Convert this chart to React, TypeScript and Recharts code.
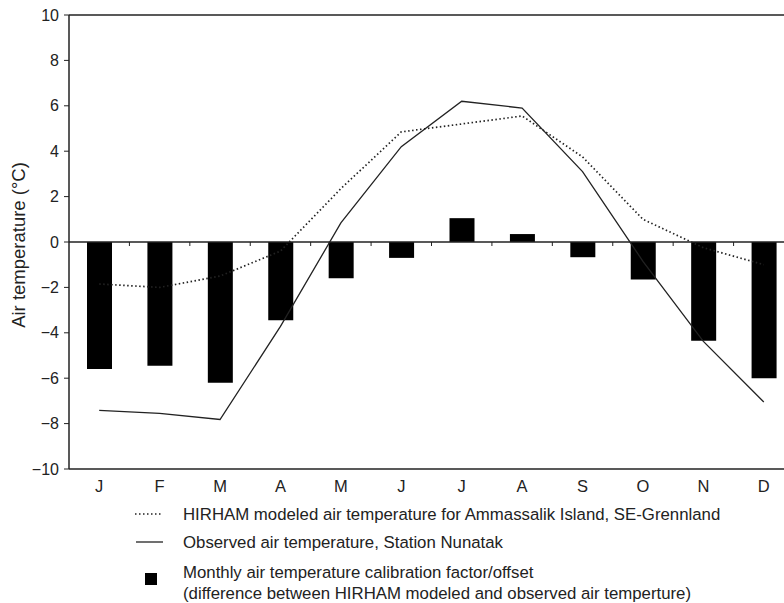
import React from "react";
import { ComposedChart, Bar, Line, XAxis, YAxis, ReferenceLine } from "recharts";

const months = ["J", "F", "M", "A", "M", "J", "J", "A", "S", "O", "N", "D"];
const modeled = [-1.85, -2.0, -1.5, -0.4, 2.35, 4.85, 5.2, 5.55, 3.75, 1.0, -0.25, -1.0];
const observed = [-7.42, -7.55, -7.82, -3.72, 0.84, 4.2, 6.2, 5.9, 3.1, -0.85, -4.38, -7.05];
const offset = [-5.6, -5.45, -6.2, -3.45, -1.6, -0.7, 1.05, 0.35, -0.67, -1.65, -4.35, -6.0];
const yTicks = [-10, -8, -6, -4, -2, 0, 2, 4, 6, 8, 10];

const legendItems = [
    "HIRHAM modeled air temperature for Ammassalik Island, SE-Grennland",
    "Observed air temperature, Station Nunatak",
    "Monthly air temperature calibration factor/offset",
    "(difference between HIRHAM modeled and observed air temperture)",
];

const data = months.map((m, i) => ({
    key: i,
    month: m,
    modeled: modeled[i],
    observed: observed[i],
    offset: offset[i],
}));

const FONT = "'Liberation Sans', Arial, sans-serif";
const INK = "#222";

// zero line with small ticks between the months
function ZeroLine(p: any) {
    const { x1, y1, x2 } = p;
    const step = (x2 - x1) / months.length;
    const ticks = [];
    for (let i = 1; i < months.length; i++) {
        const x = x1 + step * i;
        ticks.push(<line key={i} x1={x} y1={y1} x2={x} y2={y1 + 4} stroke={INK} strokeWidth={1} />);
    }
    return (
        <g>
            <line x1={x1} y1={y1} x2={x2} y2={y1} stroke={INK} strokeWidth={1.4} />
            {ticks}
        </g>
    );
}

function YLabel(p: any) {
    const vb = p.viewBox || {};
    const cy = (vb.y || 0) + (vb.height || 0) / 2 + 3;
    return (
        <text
            x={18}
            y={cy}
            transform={`rotate(-90, 18, ${cy})`}
            textAnchor="middle"
            dominantBaseline="central"
            fontSize={18.5}
            fill={INK}
            fontFamily={FONT}
        >
            Air temperature (°C)
        </text>
    );
}

const rowStyle: React.CSSProperties = {
    position: "absolute",
    left: 183,
    fontSize: 16.8,
    whiteSpace: "nowrap",
};

export default function App() {
    return (
        <div
            style={{
                position: "fixed",
                left: 0,
                top: 0,
                width: 784,
                height: 603,
                overflow: "hidden",
                background: "#fff",
                fontFamily: FONT,
                color: INK,
            }}
        >
            <ComposedChart
                width={800}
                height={500}
                data={data}
                margin={{ top: 15, right: 6, left: 0, bottom: 0 }}
                barCategoryGap={0}
            >
                <XAxis
                    dataKey="key"
                    tickFormatter={(v: number) => months[v]}
                    tickLine={false}
                    axisLine={{ stroke: INK, strokeWidth: 1.5 }}
                    tick={{ fill: INK, fontSize: 16.5, fontFamily: FONT }}
                    tickMargin={5}
                    height={31}
                    interval={0}
                />
                <YAxis
                    domain={[-10, 10]}
                    ticks={yTicks}
                    width={69}
                    tickSize={5}
                    tickMargin={5}
                    tickFormatter={(v: number) => (v < 0 ? "\u2212" + Math.abs(v) : String(v))}
                    tickLine={{ stroke: INK }}
                    axisLine={{ stroke: INK, strokeWidth: 1.5 }}
                    tick={{ fill: INK, fontSize: 16, fontFamily: FONT }}
                    label={<YLabel />}
                />
                <ReferenceLine y={10} stroke={INK} strokeWidth={1.5} />
                <Line
                    type="linear"
                    dataKey="modeled"
                    stroke={INK}
                    strokeWidth={1.7}
                    strokeDasharray="1.5 2.5"
                    dot={false}
                    isAnimationActive={false}
                />
                <Line
                    type="linear"
                    dataKey="observed"
                    stroke={INK}
                    strokeWidth={1.3}
                    dot={false}
                    isAnimationActive={false}
                />
                <Bar dataKey="offset" fill="#000" barSize={25} isAnimationActive={false} />
                <ReferenceLine y={0} shape={ZeroLine} />
            </ComposedChart>

            <svg width={40} height={90} style={{ position: "absolute", left: 130, top: 500 }}>
                <line x1={5} y1={14} x2={33} y2={14} stroke={INK} strokeWidth={1.5} strokeDasharray="1.5 2.5" />
                <line x1={6} y1={42} x2={33} y2={42} stroke={INK} strokeWidth={1.3} />
                <rect x={15} y={73} width={12} height={12} fill="#000" />
            </svg>
            <div style={{ ...rowStyle, top: 504, lineHeight: "22px" }}>{legendItems[0]}</div>
            <div style={{ ...rowStyle, top: 532, lineHeight: "22px" }}>{legendItems[1]}</div>
            <div style={{ ...rowStyle, top: 562, lineHeight: "21px" }}>
                {legendItems[2]}
                <br />
                {legendItems[3]}
            </div>
        </div>
    );
}
